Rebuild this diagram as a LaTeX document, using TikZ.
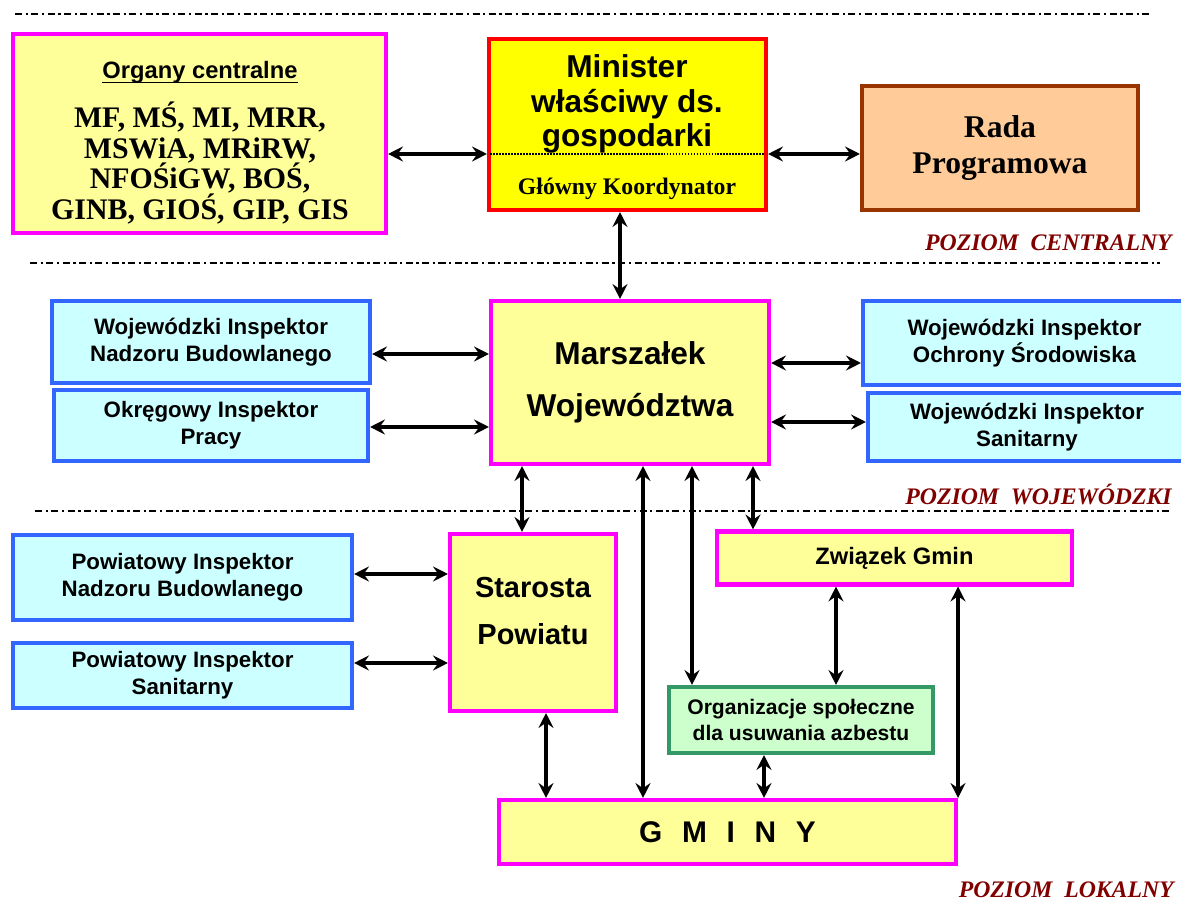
\documentclass[tikz,border=0pt]{standalone}
\usepackage{fontspec}
\setmainfont{Liberation Serif}
\setsansfont{Liberation Sans}
\usetikzlibrary{arrows.meta}
\newcommand\fsz[2]{\fontsize{#1}{#2}\selectfont}
\definecolor{lyel}{HTML}{FFFF99}
\definecolor{mag}{HTML}{FF00FF}
\definecolor{ryel}{HTML}{FFFF00}
\definecolor{rred}{HTML}{FF0000}
\definecolor{orng}{HTML}{FFCC99}
\definecolor{brwn}{HTML}{993300}
\definecolor{cyn}{HTML}{CCFFFF}
\definecolor{blu}{HTML}{3366FF}
\definecolor{lgrn}{HTML}{CCFFCC}
\definecolor{grn}{HTML}{339966}
\definecolor{drd}{HTML}{800000}

\begin{document}
\begin{tikzpicture}[x=0.02cm, y=-0.02cm,
  box/.style={draw, line width=2.3pt, inner sep=0pt, align=center, font=\sffamily\bfseries},
  wh/.style 2 args={minimum width=#1*0.02cm, minimum height=#2*0.02cm},
  pink/.style={box, draw=mag, fill=lyel},
  insp/.style={box, draw=blu, fill=cyn, font=\sffamily\bfseries\fsz{12.7}{15.3}},
  txt/.style={inner sep=0pt, align=center},
  arr/.style={{Stealth[length=8.5pt,width=8.5pt,inset=3pt]}-{Stealth[length=8.5pt,width=8.5pt,inset=3pt]}, line width=1.9pt},
  lvl/.style={line width=1.2pt, dash pattern=on 4pt off 2pt on 1.3pt off 2pt},
  poz/.style={anchor=base east, inner sep=0pt, text=drd, font=\rmfamily\bfseries\itshape\fsz{13.5}{16}}]
  \useasboundingbox (0,0) rectangle (1181,901);

  % levels
  \draw[lvl] (15,14) -- (1150,14);
  \draw[lvl] (30,263) -- (1160,263);
  \draw[lvl] (35,511) -- (1172,511);
  \node[poz] (pc) at (1172,251) {POZIOM\hspace{0.5em}CENTRALNY};
  \node[poz] (pw) at (1172,505) {POZIOM\hspace{0.5em}WOJEWÓDZKI};
  \node[poz] (pl) at (1174,898) {POZIOM\hspace{0.5em}LOKALNY};

  % central level
  \node[pink, wh={373}{199}] (organy) at (199.5,133.5) {};
  \node[txt, anchor=base, font=\sffamily\bfseries\fsz{13.5}{16}] (otitle) at (200,79) {Organy centralne};
  \draw[line width=0.9pt] ([yshift=-2pt]otitle.base west) -- ([yshift=-2pt]otitle.base east);
  \node[txt, font=\rmfamily\bfseries\fsz{17}{17.6}] (olist) at (200,163)
    {MF, MŚ, MI, MRR,\\MSWiA, MRiRW,\\NFOŚiGW, BOŚ,\\GINB, GIOŚ, GIP, GIS};
  \node[box, draw=rred, fill=ryel, wh={277}{171}] (minister) at (627.5,124.5) {};
  \node[txt, font=\sffamily\bfseries\fsz{18}{19.6}] (mtxt) at (627,104) {Minister\\właściwy ds.\\gospodarki};
  \coordinate (div) at (627,154);
  \draw[line width=1pt, dash pattern=on 1pt off 0.7pt, shorten <=2pt, shorten >=2pt] (minister.west |- div) -- (minister.east |- div);
  \node[txt, anchor=base, font=\rmfamily\bfseries\fsz{13.5}{16}] (koord) at (627,195) {Główny Koordynator};
  \node[box, draw=brwn, fill=orng, wh={276}{124}, font=\rmfamily\bfseries\fsz{18}{20}] (rada) at (1000,148) {Rada\\Programowa};

  % voivodeship level
  \node[insp, wh={318}{82}] (winb) at (211,342) {Wojewódzki Inspektor\\Nadzoru Budowlanego};
  \node[insp, wh={314}{71}] (oip) at (211,425.5) {Okręgowy Inspektor\\Pracy};
  \node[pink, wh={278}{163}, font=\sffamily\bfseries\fsz{18}{29.5}] (marsz) at (630,382.5) {Marszałek\\Województwa};
  \node[insp, wh={323}{84}] (wios) at (1024.5,343) {Wojewódzki Inspektor\\Ochrony Środowiska};
  \node[insp, wh={318}{68}] (wis) at (1027,427) {Wojewódzki Inspektor\\Sanitarny};

  % local level
  \node[insp, wh={339}{85}] (pinb) at (182.5,577.5) {Powiatowy Inspektor\\Nadzoru Budowlanego};
  \node[insp, wh={339}{65}] (pis) at (182.5,675.5) {Powiatowy Inspektor\\Sanitarny};
  \node[pink, wh={166}{177}] (starosta) at (533,622.5) {};
  \node[txt, font=\sffamily\bfseries\fsz{16.5}{27.2}] (stxt) at (533,611) {Starosta\\Powiatu};
  \node[pink, wh={355}{53}, font=\sffamily\bfseries\fsz{13.5}{16}] (zwiazek) at (894.5,558) {Związek Gmin};
  \node[box, draw=grn, fill=lgrn, wh={264}{66}, font=\sffamily\bfseries\fsz{12}{14.7}] (org) at (801,720)
    {Organizacje społeczne\\dla usuwania azbestu};
  \node[pink, wh={457}{64}, font=\sffamily\bfseries\fsz{17}{20}] (gminy) at (727.5,832)
    {G\hspace{0.66em}M\hspace{0.66em}I\hspace{0.66em}N\hspace{0.66em}Y};

  % guides for the arrows
  \coordinate (h1) at (0,354);
  \coordinate (h2) at (0,427);
  \coordinate (h3) at (0,363);
  \coordinate (h4) at (0,422);
  \coordinate (h5) at (0,574);
  \coordinate (h6) at (0,663);
  \coordinate (v1) at (620,0);
  \coordinate (v2) at (522,0);
  \coordinate (v3) at (643,0);
  \coordinate (v4) at (692,0);
  \coordinate (v5) at (753,0);
  \coordinate (v6) at (546,0);
  \coordinate (v7) at (836,0);
  \coordinate (v8) at (764,0);

  % arrows
  \draw[arr] (organy.east |- div) -- (minister.west |- div);
  \draw[arr] (minister.east |- div) -- (rada.west |- div);
  \draw[arr] (minister.south -| v1) -- (marsz.north -| v1);
  \draw[arr] (winb.east |- h1) -- (marsz.west |- h1);
  \draw[arr] (oip.east |- h2) -- (marsz.west |- h2);
  \draw[arr] (marsz.east |- h3) -- (wios.west |- h3);
  \draw[arr] (marsz.east |- h4) -- (wis.west |- h4);
  \draw[arr] (marsz.south -| v2) -- (starosta.north -| v2);
  \draw[arr] (marsz.south -| v3) -- (gminy.north -| v3);
  \draw[arr] (marsz.south -| v4) -- (org.north -| v4);
  \draw[arr] (marsz.south -| v5) -- (zwiazek.north -| v5);
  \draw[arr] (pinb.east |- h5) -- (starosta.west |- h5);
  \draw[arr] (pis.east |- h6) -- (starosta.west |- h6);
  \draw[arr] (starosta.south -| v6) -- (gminy.north -| v6);
  \draw[arr] (zwiazek.south -| v7) -- (org.north -| v7);
  \draw[arr] (org.south -| v8) -- (gminy.north -| v8);
  \draw[arr] (zwiazek.south -| gminy.east) -- (gminy.north -| gminy.east);
\end{tikzpicture}
\end{document}
